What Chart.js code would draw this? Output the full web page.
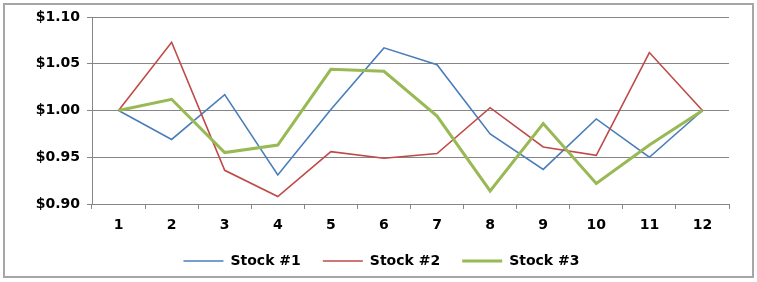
<!DOCTYPE html>
<html>
<head>
<meta charset="utf-8">
<script src="https://cdn.jsdelivr.net/npm/chart.js@4"></script>
<style>
  html, body { margin: 0; padding: 0; background: #fff; }
  #wrap { width: 757px; height: 282px; position: relative; }
</style>
</head>
<body>
<div id="wrap"><canvas id="chart" width="757" height="282"></canvas></div>
<script>
// data
const months = ["1", "2", "3", "4", "5", "6", "7", "8", "9", "10", "11", "12"];
const stock1 = [1.000, 0.969, 1.017, 0.931, 1.001, 1.067, 1.049, 0.975, 0.937, 0.991, 0.950, 1.000];
const stock2 = [1.000, 1.073, 0.936, 0.908, 0.956, 0.949, 0.954, 1.003, 0.961, 0.952, 1.062, 1.000];
const stock3 = [1.000, 1.012, 0.955, 0.963, 1.044, 1.042, 0.994, 0.914, 0.986, 0.922, 0.963, 1.000];
const yTicks = [0.90, 0.95, 1.00, 1.05, 1.10];

const gridGray = "#868686";
const font = { family: "DejaVu Sans", weight: "bold", size: 14 };

// outer frame like the Excel chart area
const frame = {
    id: "frame",
    afterLayout(chart) {
        // legend in the reference sits centred on the whole frame, not the plot box
        chart.legend.left += 17;
        chart.legend.right += 17;
    },
    afterDraw(chart) {
        const ctx = chart.ctx;
        ctx.save();
        ctx.strokeStyle = "#a6a6a6";
        ctx.lineWidth = 2;
        ctx.strokeRect(4, 4, 749, 273);
        ctx.restore();
    },
};

new Chart(document.getElementById("chart").getContext("2d"), {
    type: "line",
    data: {
        labels: months,
        datasets: [
            { label: "Stock #1", data: stock1, borderColor: "#4a7ebb", backgroundColor: "#4a7ebb", borderWidth: 1.6, order: 2 },
            { label: "Stock #2", data: stock2, borderColor: "#be4b48", backgroundColor: "#be4b48", borderWidth: 1.6, order: 1 },
            { label: "Stock #3", data: stock3, borderColor: "#98b954", backgroundColor: "#98b954", borderWidth: 3, order: 0 },
        ],
    },
    options: {
        responsive: false,
        animation: false,
        events: [],
        elements: { point: { radius: 0 }, line: { tension: 0 } },
        layout: { padding: { top: 17, right: 28, left: 0, bottom: 4 } },
        plugins: {
            tooltip: { enabled: false },
            legend: {
                position: "bottom",
                labels: {
                    color: "#000",
                    font: { family: "DejaVu Sans", weight: "bold", size: 14 },
                    usePointStyle: true,
                    pointStyle: "line",
                    pointStyleWidth: 40,
                    boxWidth: 40,
                    padding: 22,
                    sort: (a, b) => a.datasetIndex - b.datasetIndex,
                },
            },
        },
        scales: {
            x: {
                offset: true,
                afterFit: (s) => { s.height = 28; },
                grid: { offset: true, drawOnChartArea: false, color: gridGray, tickLength: 5 },
                border: { color: gridGray },
                ticks: { color: "#000", font: font, padding: 8, maxRotation: 0 },
            },
            y: {
                min: 0.9,
                max: 1.1,
                afterFit: (s) => { s.width = 92; },
                afterBuildTicks: (s) => { s.ticks = yTicks.map((v) => ({ value: v })); },
                grid: { color: gridGray, tickLength: 5 },
                border: { color: gridGray },
                ticks: { color: "#000", font: font, padding: 7, callback: (v) => "$" + Number(v).toFixed(2) },
            },
        },
    },
    plugins: [frame],
});
</script>
</body>
</html>
